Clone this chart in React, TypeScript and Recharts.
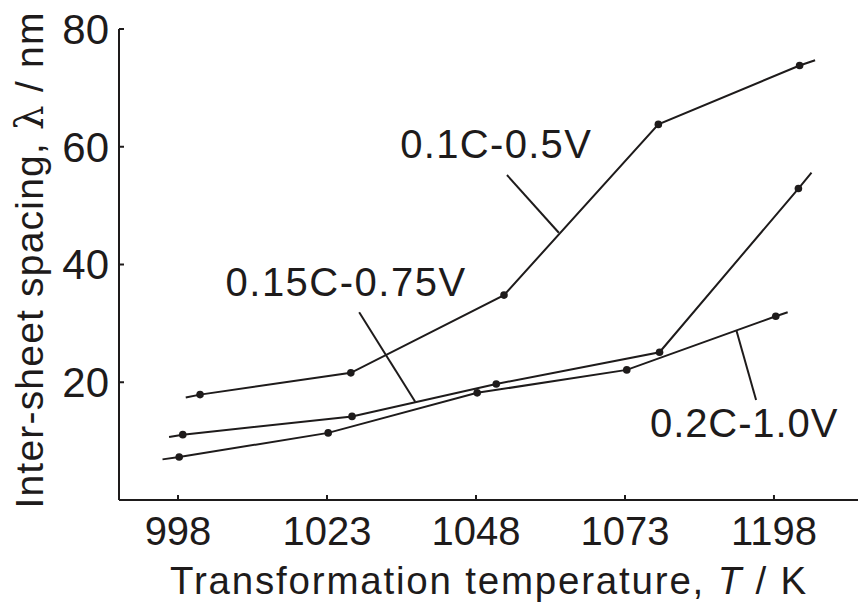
import { LineChart, Line, XAxis, YAxis, ReferenceLine, ReferenceDot } from 'recharts';

// x values are temperatures on an evenly spaced axis (last tick printed as 1198 in the source)
const tickTemps = [998, 1023, 1048, 1073, 1098];
const tickLabels = ['998', '1023', '1048', '1073', '1198'];
const yTicks = [20, 40, 60, 80];

// 0.1C-0.5V
const tempsA = [999.3, 1001.7, 1027.0, 1052.7, 1078.6, 1102.3, 1104.9];
const valuesA = [17.4, 17.9, 21.6, 34.8, 63.8, 73.8, 74.7];
const markedA = [false, true, true, true, true, true, false];

// 0.15C-0.75V
const tempsB = [996.5, 998.8, 1027.2, 1051.4, 1078.8, 1102.1, 1104.3];
const valuesB = [10.7, 11.1, 14.2, 19.7, 25.1, 52.9, 55.6];
const markedB = [false, true, true, true, true, true, false];

// 0.2C-1.0V
const tempsC = [995.4, 998.2, 1023.2, 1048.2, 1073.3, 1098.3, 1100.3];
const valuesC = [6.9, 7.3, 11.4, 18.2, 22.1, 31.2, 31.9];
const markedC = [false, true, true, true, true, true, false];

const seriesNames = ['0.1C-0.5V', '0.15C-0.75V', '0.2C-1.0V'];
// label centre [T, value]
const labelPos = [
  [1051.4, 60.5],
  [1026.2, 37.0],
  [1093.0, 13.0],
];
const labelSpacing = [1.3, 1.5, 0.9];
// leader lines [[T1, v1], [T2, v2]]
const leaders = [
  [[1053.2, 55.2], [1061.9, 45.4]],
  [[1028.4, 31.9], [1037.8, 16.7]],
  [[1091.7, 28.8], [1095.0, 17.0]],
];

const build = (t: number[], v: number[], m: boolean[]) =>
  t.map((x, i) => ({ t: x, v: v[i], m: m[i] }));

const series = [
  build(tempsA, valuesA, markedA),
  build(tempsB, valuesB, markedB),
  build(tempsC, valuesC, markedC),
];

const FONT = '"Liberation Sans", Arial, sans-serif';
const INK = '#1e1b1b';

const Dot = (props: any) => {
  const { cx, cy, payload, index } = props;
  if (!payload.m) return <g key={index} />;
  return <circle key={index} cx={cx} cy={cy} r={3.8} fill={INK} />;
};

const XTitle = (props: any) => {
  const vb = props.viewBox;
  return (
    <text
      x={489}
      y={vb.y + 94}
      textAnchor="middle"
      fontFamily={FONT}
      fontSize={38.5}
      letterSpacing={1.8}
      fill={INK}
    >
      Transformation temperature, <tspan fontStyle="italic">T</tspan> / K
    </text>
  );
};

const YTitle = () => (
  <text
    x={0}
    y={0}
    transform="translate(43 260) rotate(-90)"
    textAnchor="middle"
    fontFamily={FONT}
    fontSize={39}
    letterSpacing={1.2}
    fill={INK}
  >
    Inter-sheet spacing, <tspan fontFamily="DejaVu Serif">λ</tspan> / nm
  </text>
);

const SeriesLabel = (props: any) => {
  const { viewBox, value, spacing } = props;
  const cx = viewBox.x + (viewBox.width || 0) / 2;
  const cy = viewBox.y + (viewBox.height || 0) / 2;
  return (
    <text
      x={cx}
      y={cy + 14}
      textAnchor="middle"
      fontFamily={FONT}
      fontSize={40}
      letterSpacing={spacing}
      fill={INK}
    >
      {value}
    </text>
  );
};

export default function App() {
  return (
    <div style={{ position: 'absolute', left: 0, top: 0, background: '#fff' }}>
      <LineChart width={858} height={606} margin={{ top: 29, right: 0, bottom: 0, left: 0 }}>
        <XAxis
          type="number"
          dataKey="t"
          domain={[988.1, 1112.1]}
          ticks={tickTemps}
          tickFormatter={(t: number) => tickLabels[tickTemps.indexOf(t)]}
          allowDataOverflow
          height={106}
          stroke={INK}
          strokeWidth={2}
          tickSize={-5}
          tickMargin={22}
          tick={{ fontFamily: FONT, fontSize: 40, fill: INK }}
          label={<XTitle />}
        />
        <YAxis
          type="number"
          domain={[0, 80]}
          ticks={yTicks}
          width={119}
          stroke={INK}
          strokeWidth={2}
          tickSize={-5}
          tickMargin={15}
          tick={{ fontFamily: FONT, fontSize: 42, fill: INK }}
          label={<YTitle />}
        />
        {series.map((d, i) => (
          <Line
            key={seriesNames[i]}
            data={d}
            dataKey="v"
            type="linear"
            stroke={INK}
            strokeWidth={2}
            dot={<Dot />}
            activeDot={false}
            isAnimationActive={false}
          />
        ))}
        {leaders.map((seg, i) => (
          <ReferenceLine
            key={`lead-${i}`}
            segment={[
              { x: seg[0][0], y: seg[0][1] },
              { x: seg[1][0], y: seg[1][1] },
            ]}
            stroke={INK}
            strokeWidth={2}
          />
        ))}
        {labelPos.map((p, i) => (
          <ReferenceDot
            key={`lab-${i}`}
            x={p[0]}
            y={p[1]}
            r={0}
            fill="none"
            stroke="none"
            label={<SeriesLabel value={seriesNames[i]} spacing={labelSpacing[i]} />}
          />
        ))}
      </LineChart>
    </div>
  );
}
